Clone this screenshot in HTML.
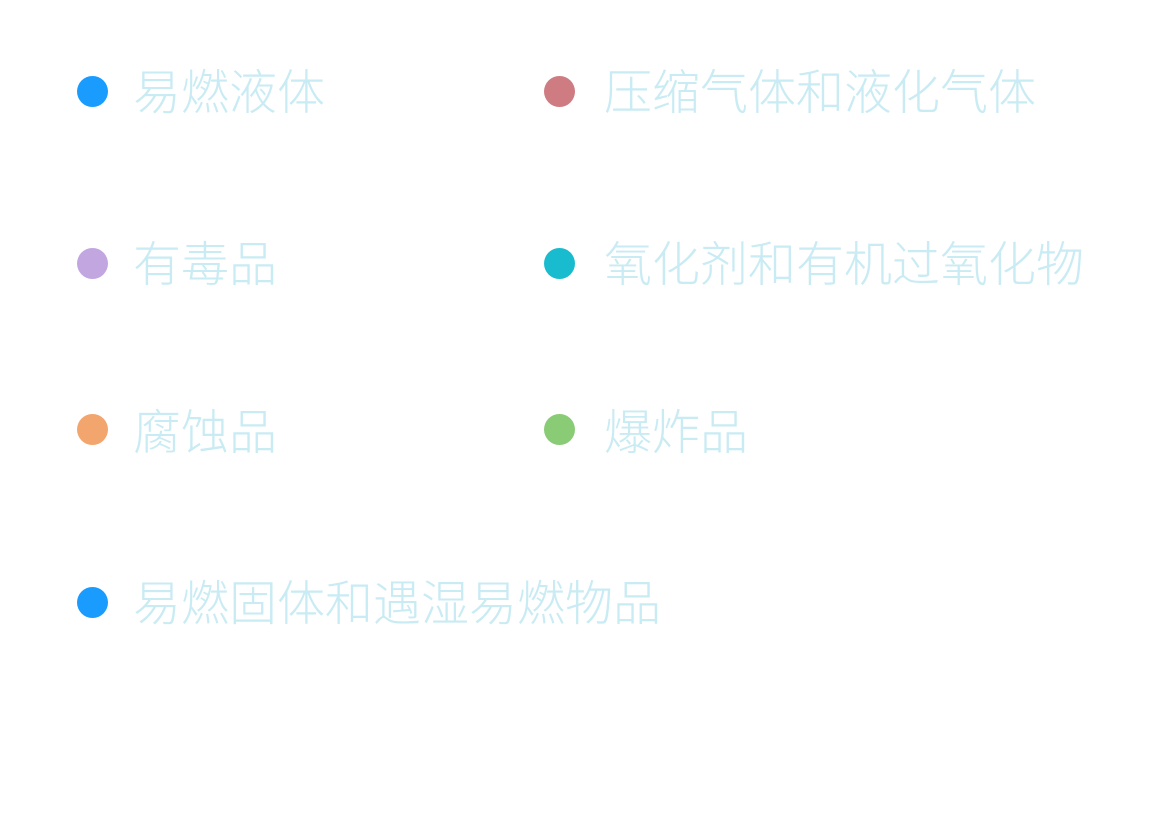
<!DOCTYPE html>
<html><head><meta charset="utf-8"><style>
body{margin:0;width:1172px;height:817px;background:#fff;position:relative;overflow:hidden;font-family:"Liberation Sans","Noto Sans CJK SC",sans-serif;}
.d{position:absolute;width:31px;height:31px;border-radius:50%;}
.t{position:absolute;font-size:48px;line-height:48px;height:48px;color:#c9ebf3;font-weight:300;white-space:nowrap;}
</style></head><body>
<div class="d" style="left:77px;top:76px;background:#1a9cff"></div>
<div class="t" style="left:133px;top:70px">易燃液体</div>
<div class="d" style="left:544px;top:76px;background:#cf7b82"></div>
<div class="t" style="left:604px;top:70px">压缩气体和液化气体</div>
<div class="d" style="left:77px;top:248px;background:#c2a6e0"></div>
<div class="t" style="left:133px;top:242px">有毒品</div>
<div class="d" style="left:544px;top:248px;background:#19bccf"></div>
<div class="t" style="left:604px;top:242px">氧化剂和有机过氧化物</div>
<div class="d" style="left:77px;top:414px;background:#f3a56e"></div>
<div class="t" style="left:133px;top:410px">腐蚀品</div>
<div class="d" style="left:544px;top:414px;background:#8acb76"></div>
<div class="t" style="left:604px;top:410px">爆炸品</div>
<div class="d" style="left:77px;top:587px;background:#1a9cff"></div>
<div class="t" style="left:133px;top:581px">易燃固体和遇湿易燃物品</div>
</body></html>
